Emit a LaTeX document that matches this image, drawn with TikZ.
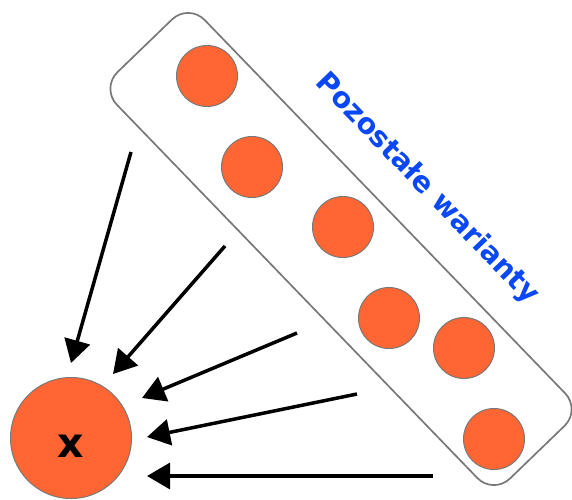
\documentclass[tikz,border=0pt]{standalone}
\usepackage{fontspec}
\setsansfont{DejaVu Sans}
\usetikzlibrary{arrows.meta}
\definecolor{variant}{HTML}{FF6633}
\definecolor{caption}{RGB}{10,72,245}
\definecolor{rim}{RGB}{120,120,120}
\begin{document}
\begin{tikzpicture}[x=1pt,y=-1pt,
  variantdot/.style={circle, draw=rim, line width=1pt, fill=variant, minimum size=61pt, inner sep=0pt},
  groupbox/.style={draw=rim, line width=1.7pt, rounded corners=23pt, minimum width=565pt, minimum height=122pt, inner sep=0pt, rotate=-46},
  flow/.style={line width=3.5pt, -{Triangle[length=23pt,width=26pt]}}
]
\useasboundingbox (0,0) rectangle (572,499);

% frame around the remaining variants
\node[groupbox] (group) at (341,249) {};

% remaining variants
\node[variantdot] (v1) at (207,76) {};
\node[variantdot] (v2) at (252,167) {};
\node[variantdot] (v3) at (343,227) {};
\node[variantdot] (v4) at (389,318) {};
\node[variantdot] (v5) at (464,348) {};
\node[variantdot] (v6) at (494,439) {};

% caption of the group
\node[rotate=-46, text=caption, inner sep=0pt,
      font=\sffamily\bfseries\fontsize{28.5}{30}\selectfont] (label) at (427,189) {Pozostałe warianty};

% the chosen variant
\node[variantdot, minimum size=121pt] (X) at (71,438) {};
\node[font=\sffamily\bfseries\fontsize{41}{44}\selectfont, inner sep=0pt] (xname) at (71,446) {x};

% arrow ends
\coordinate (t1) at (131,152); \coordinate (h1) at (71,363);
\coordinate (t2) at (225,246); \coordinate (h2) at (113,374);
\coordinate (t3) at (297,333); \coordinate (h3) at (142,398);
\coordinate (t4) at (357,394); \coordinate (h4) at (147,437);
\coordinate (t5) at (433,476); \coordinate (h5) at (147,476);

\draw[flow] (t1) -- (h1);
\draw[flow] (t2) -- (h2);
\draw[flow] (t3) -- (h3);
\draw[flow] (t4) -- (h4);
\draw[flow] (t5) -- (h5);
\end{tikzpicture}
\end{document}
